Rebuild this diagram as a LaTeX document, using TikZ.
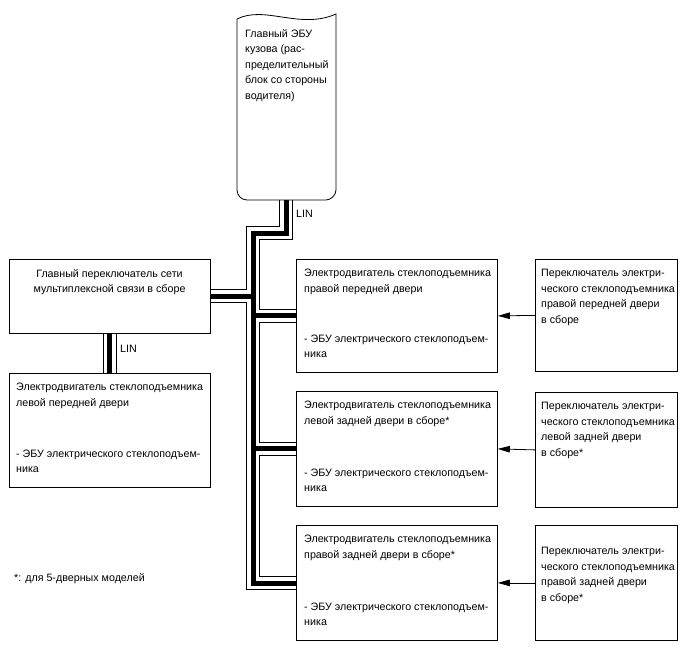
\documentclass[tikz,border=0pt]{standalone}
\usepackage{fontspec}
\setmainfont{Liberation Sans}
\usetikzlibrary{arrows.meta,backgrounds}
\newcommand\fsz{\fontsize{10.7}{15.5}\selectfont}
\begin{document}
\begin{tikzpicture}[x=1pt,y=-1pt,
  box/.style={draw, line width=0.8pt, inner sep=0, anchor=north west},
  txt/.style={inner sep=0, align=left, font=\fsz},
  arr/.style={line width=0.8pt, -{Triangle[length=12pt,width=6.5pt]}},
  cab/.style={line join=miter, line cap=butt}
]
\useasboundingbox (0,0) rectangle (688,658);

% ECU shape
\node[inner sep=0, minimum width=99, minimum height=185, anchor=north west] (ecu) at (237,15) {};
\draw[line width=0.8pt] (237,19) .. controls (265,5) and (300,30) .. (336,14)
  -- (336,190) .. controls (336,195.5) and (330.5,200) .. (326,200)
  -- (247,200) .. controls (241.5,200) and (237,195.5) .. (237,190) -- cycle;
\node[txt, anchor=north west] (ecut) at (245,29) {Главный ЭБУ\\кузова (рас-\\пределительный\\блок со стороны\\водителя)};

% boxes
\node[box, minimum width=201, minimum height=74] (sw) at (9,259) {};
\node[box, minimum width=201, minimum height=114] (lf) at (9,373) {};
\node[box, minimum width=201, minimum height=113] (m1) at (296,259) {};
\node[box, minimum width=201, minimum height=115] (m2) at (296,391) {};
\node[box, minimum width=201, minimum height=115] (m3) at (296,525) {};
\node[box, minimum width=142, minimum height=112] (s1) at (535,259) {};
\node[box, minimum width=142, minimum height=115] (s2) at (535,392) {};
\node[box, minimum width=142, minimum height=115] (s3) at (535,525) {};

% texts
\node[txt, align=center, anchor=north] (swt) at (109.5,269) {Главный переключатель сети\\мультиплексной связи в сборе};
\node[txt, anchor=north west] (lft1) at (16,383) {Электродвигатель стеклоподъемника\\левой передней двери};
\node[txt, anchor=south west] (lft2) at (16,473) {- ЭБУ электрического стеклоподъем-\\ника};
\node[txt, anchor=north west] (m1t1) at (304,269) {Электродвигатель стеклоподъемника\\правой передней двери};
\node[txt, anchor=south west] (m1t2) at (304,358) {- ЭБУ электрического стеклоподъем-\\ника};
\node[txt, anchor=north west] (m2t1) at (304,401) {Электродвигатель стеклоподъемника\\левой задней двери в сборе*};
\node[txt, anchor=south west] (m2t2) at (304,492) {- ЭБУ электрического стеклоподъем-\\ника};
\node[txt, anchor=north west] (m3t1) at (304,535) {Электродвигатель стеклоподъемника\\правой задней двери в сборе*};
\node[txt, anchor=south west] (m3t2) at (304,626) {- ЭБУ электрического стеклоподъем-\\ника};
\node[txt, anchor=north west] (s1t) at (541,269) {Переключатель электри-\\ческого стеклоподъемника\\правой передней двери\\в сборе};
\node[txt, anchor=north west] (s2t) at (541,402) {Переключатель электри-\\ческого стеклоподъемника\\левой задней двери\\в сборе*};
\node[txt, anchor=north west] (s3t) at (541,547) {Переключатель электри-\\ческого стеклоподъемника\\правой задней двери\\в сборе*};
\node[txt, anchor=base west] (lin1) at (296,217) {LIN};
\node[txt, anchor=base west] (lin2) at (120,352) {LIN};
\node[txt, anchor=base west] (fn) at (14,581) {*: для 5-дверных моделей};

% arrows
\draw[arr] (s1.west) -- (m1.east);
\draw[arr] (s2.west) -- (m2.east);
\draw[arr] (s3.west) -- (m3.east);

% cables
\coordinate (c1) at (286,233);
\coordinate (c2) at (253,233);
\coordinate (c3) at (253,583);
\begin{scope}[on background layer]
\fill[white] (0,0) rectangle (688,658);
\foreach \w/\c in {14/black,12/white,5/black}{
  \draw[cab, line width=\w, draw=\c] (ecu.south -| c1) -- (c1) -- (c2) -- (c3) -- (c3 -| m3.west)
    (sw.east -| c2) -- (sw.east)
    (m1.west -| c2) -- (m1.west)
    (m2.west -| c2) -- (m2.west)
    (sw.south) -- (lf.north);
}
\end{scope}
\end{tikzpicture}
\end{document}
